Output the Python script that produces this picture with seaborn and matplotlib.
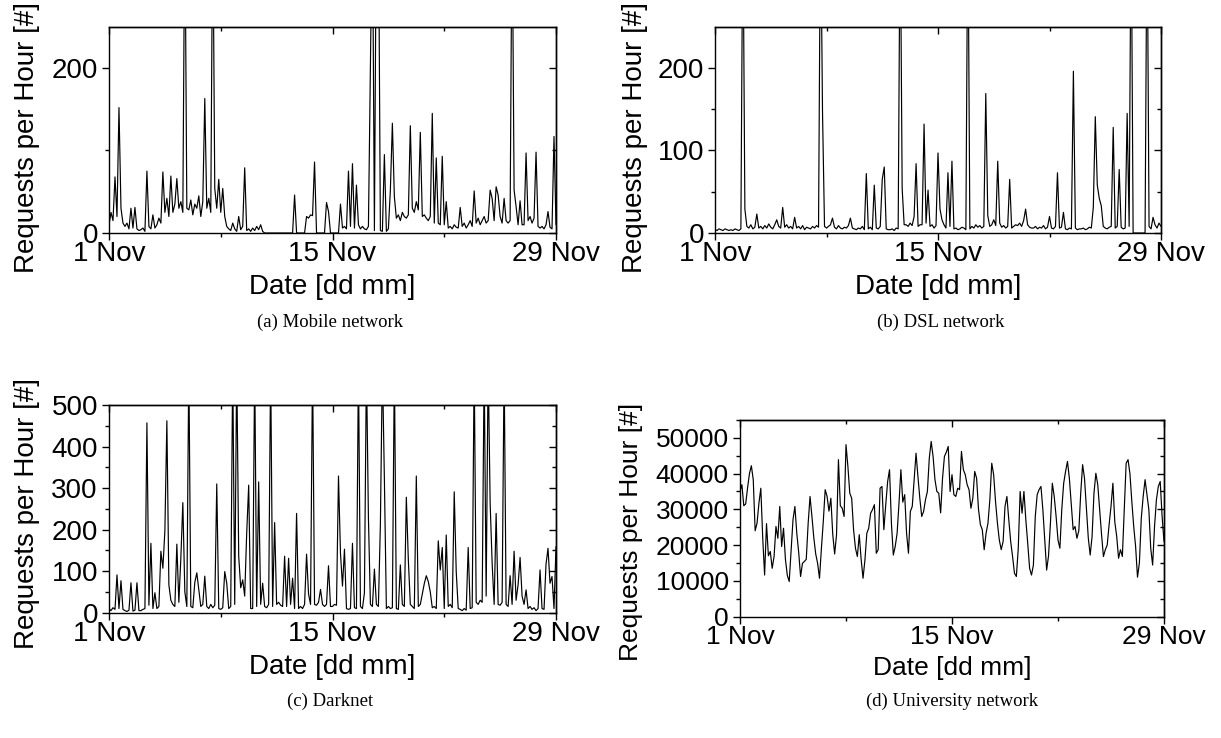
import numpy as np
import pandas as pd
import matplotlib
matplotlib.use("Agg")
import matplotlib.pyplot as plt
import seaborn as sns

# ---------------- data (requests per hour, one value every 3 hours, 1 Nov 00:00 .. 29 Nov 00:00) -------------
hours_per_step = 3
x_tick_days = [0, 14, 28]
x_minor_days = [7, 21]
x_tick_labels = ["1 Nov", "15 Nov", "29 Nov"]

mobile_requests = [
    10, 25, 15, 68, 20, 152, 30, 12,
    8, 12, 5, 30, 6, 31, 5, 3,
    4, 6, 2, 75, 8, 5, 22, 6,
    10, 18, 12, 74, 25, 42, 20, 69,
    25, 35, 66, 30, 38, 25, 400, 30,
    28, 40, 22, 35, 30, 45, 20, 38,
    163, 30, 42, 25, 400, 54, 30, 65,
    25, 54, 20, 8, 5, 3, 12, 5,
    2, 20, 4, 8, 79, 3, 5, 2,
    6, 3, 8, 4, 10, 2, 0, 0,
    0, 0, 0, 0, 0, 0, 0, 0,
    0, 0, 0, 0, 0, 46, 0, 0,
    0, 0, 0, 20, 18, 22, 21, 86,
    0, 0, 0, 0, 0, 37, 26, 0,
    0, 0, 0, 0, 35, 6, 8, 5,
    75, 8, 84, 6, 58, 10, 5, 8,
    5, 4, 8, 200, 400, 3, 400, 400,
    3, 2, 95, 2, 5, 52, 133, 44,
    18, 22, 15, 25, 20, 18, 22, 130,
    30, 25, 38, 28, 122, 20, 22, 18,
    15, 20, 145, 12, 91, 12, 10, 93,
    10, 38, 6, 8, 5, 10, 7, 6,
    31, 8, 12, 6, 10, 15, 8, 51,
    12, 18, 10, 15, 20, 12, 15, 52,
    42, 15, 56, 46, 20, 12, 42, 15,
    12, 15, 400, 52, 32, 10, 39, 10,
    10, 97, 15, 20, 12, 18, 98, 8,
    6, 8, 5, 10, 26, 7, 5, 117,
    10,
]

dsl_requests = [
    4, 3, 5, 4, 3, 5, 4, 3,
    4, 3, 5, 4, 3, 5, 400, 29,
    8, 6, 10, 5, 7, 23, 6, 8,
    5, 9, 6, 11, 7, 5, 10, 16,
    8, 6, 31, 7, 10, 6, 8, 5,
    19, 6, 8, 5, 9, 4, 7, 6,
    5, 8, 6, 9, 7, 400, 146, 8,
    6, 8, 10, 18, 7, 5, 9, 6,
    5, 7, 6, 9, 18, 6, 5, 4,
    6, 5, 8, 4, 72, 5, 7, 4,
    58, 6, 5, 8, 65, 80, 5, 4,
    4, 5, 3, 6, 5, 400, 54, 10,
    10, 8, 12, 9, 20, 84, 8, 10,
    10, 132, 12, 52, 8, 10, 6, 9,
    97, 29, 16, 10, 6, 73, 8, 87,
    5, 6, 4, 5, 7, 6, 4, 400,
    5, 8, 6, 10, 7, 9, 6, 8,
    169, 21, 8, 10, 16, 9, 87, 12,
    7, 9, 6, 8, 65, 6, 8, 10,
    9, 12, 8, 15, 29, 10, 7, 6,
    6, 8, 5, 7, 6, 9, 5, 7,
    20, 6, 5, 8, 73, 6, 7, 25,
    5, 4, 6, 5, 196, 6, 4, 5,
    5, 6, 4, 5, 7, 6, 31, 141,
    58, 42, 33, 8, 6, 5, 7, 8,
    128, 6, 8, 77, 7, 5, 6, 145,
    8, 400, 0, 0, 0, 0, 0, 0,
    0, 400, 8, 5, 19, 10, 6, 12,
    8,
]

darknet_requests = [
    10, 5, 12, 8, 91, 10, 77, 8,
    5, 3, 6, 72, 4, 6, 72, 5,
    5, 8, 10, 457, 18, 167, 10, 48,
    10, 15, 148, 107, 197, 462, 67, 30,
    20, 15, 165, 25, 131, 265, 50, 15,
    600, 15, 12, 73, 96, 55, 15, 20,
    88, 15, 10, 20, 12, 18, 310, 10,
    8, 12, 99, 71, 10, 15, 600, 20,
    600, 136, 60, 79, 40, 191, 307, 10,
    10, 600, 15, 315, 20, 71, 15, 12,
    20, 600, 15, 217, 20, 25, 18, 15,
    136, 15, 131, 20, 83, 10, 239, 10,
    15, 10, 20, 141, 45, 20, 600, 20,
    18, 25, 56, 20, 15, 20, 113, 15,
    15, 20, 18, 329, 143, 64, 153, 10,
    8, 10, 167, 12, 10, 600, 15, 10,
    48, 600, 229, 20, 15, 105, 20, 15,
    213, 600, 322, 10, 15, 10, 12, 600,
    10, 8, 115, 20, 15, 278, 127, 20,
    15, 10, 329, 15, 20, 45, 70, 89,
    75, 50, 12, 15, 10, 173, 103, 157,
    10, 187, 15, 20, 12, 291, 99, 10,
    8, 5, 10, 6, 157, 10, 12, 600,
    25, 20, 30, 25, 600, 40, 600, 263,
    119, 20, 239, 20, 18, 25, 600, 20,
    15, 89, 20, 148, 30, 67, 133, 40,
    20, 55, 10, 15, 8, 12, 5, 10,
    103, 10, 8, 117, 155, 71, 87, 10,
    159,
]

university_requests = [
    35000, 36900, 31000, 31500, 36000, 40000, 42200, 38300, 24000, 26100,
    31700, 35900, 22000, 11600, 26000, 17000, 18200, 13500, 16800, 25200,
    21900, 30800, 19600, 24700, 16000, 11500, 9800, 18700, 27100, 30800,
    23300, 18000, 11200, 14900, 15400, 16000, 26000, 33600, 28000, 22000,
    17500, 14900, 10700, 19000, 26600, 35500, 33600, 29500, 33100, 23000,
    17500, 22900, 43900, 31000, 30300, 28000, 48100, 42000, 34500, 33100,
    24300, 19100, 16800, 22900, 16000, 10700, 15800, 23300, 24700, 28900,
    29900, 31300, 17700, 18700, 35900, 36400, 24300, 31300, 37800, 41100,
    26000, 17200, 19600, 23300, 31700, 41100, 32000, 34100, 23300, 17700,
    29400, 30800, 38300, 45700, 39200, 33100, 28000, 29400, 32700, 35000,
    44300, 49000, 44800, 38300, 35000, 34500, 29000, 38700, 44800, 46000,
    47600, 35000, 39700, 34100, 33600, 35900, 35500, 46200, 41100, 39700,
    36900, 35500, 30300, 33100, 40600, 38700, 30000, 25700, 24300, 18700,
    23300, 26100, 32700, 42900, 39700, 32200, 26100, 21400, 18700, 21000,
    30800, 33600, 27100, 21000, 16800, 12100, 11200, 19000, 35000, 28900,
    35000, 27100, 20500, 13500, 11600, 14400, 28000, 34100, 35500, 36400,
    29900, 21400, 13000, 17000, 26100, 37300, 33600, 28000, 21400, 19100,
    30000, 37300, 40600, 43400, 38700, 31700, 24300, 25200, 21900, 24000,
    34500, 42500, 38700, 30500, 22000, 17200, 22400, 34500, 40100, 36900,
    30000, 23000, 16800, 18700, 20000, 25700, 30800, 37300, 26500, 22500,
    16300, 18700, 16800, 29900, 42900, 43900, 40000, 32200, 25200, 19600,
    11000, 15000, 27500, 33600, 38300, 34100, 29900, 19000, 14400, 25200,
    32700, 36400, 37800, 28000, 21000,
]

captions = ["(a) Mobile network", "(b) DSL network", "(c) Darknet", "(d) University network"]
y_label = "Requests per Hour [#]"
x_label = "Date [dd mm]"

# ---------------- styling ----------------
sns.set_style("ticks")
plt.rcParams["font.family"] = ["Liberation Sans", "DejaVu Sans"]
plt.rcParams["axes.linewidth"] = 1.0
for key in ["text.color", "axes.labelcolor", "xtick.color", "ytick.color", "axes.edgecolor"]:
    plt.rcParams[key] = "black"

W, H = 1221, 738
fig = plt.figure(figsize=(W / 100, H / 100), dpi=100)


def px_rect(left, top, right, bottom):
    return [left / W, 1 - bottom / H, (right - left) / W, (bottom - top) / H]


panels = [
    dict(values=mobile_requests, rect=px_rect(109, 26.7, 556, 233), ylim=250,
         major=[0, 200], minor=[100], fs=20, cap=(330, 322), ylab=(-0.154, 0.465)),
    dict(values=dsl_requests, rect=px_rect(715, 26.7, 1161, 233), ylim=250,
         major=[0, 100, 200], minor=[50, 150], fs=20, cap=(941, 322), ylab=(-0.150, 0.465)),
    dict(values=darknet_requests, rect=px_rect(109, 405, 556, 612.7), ylim=500,
         major=[0, 100, 200, 300, 400, 500], minor=[50, 150, 250, 350, 450], fs=20,
         cap=(330, 701), ylab=(-0.154, 0.48)),
    dict(values=university_requests, rect=px_rect(740, 420, 1164, 616.5), ylim=55000,
         major=[0, 10000, 20000, 30000, 40000, 50000],
         minor=[5000, 15000, 25000, 35000, 45000, 55000], fs=19, cap=(952, 701),
         ylab=(-0.229, 0.43)),
]

for p, cap in zip(panels, captions):
    ax = fig.add_axes(p["rect"])
    vals = p["values"]
    df = pd.DataFrame({"day": np.arange(len(vals)) * hours_per_step / 24.0, "req": vals})
    sns.lineplot(data=df, x="day", y="req", ax=ax, color="black", linewidth=0.85,
                 estimator=None)
    ax.set_xlim(0, 28)
    ax.set_ylim(0, p["ylim"])
    ax.set_xticks(x_tick_days)
    ax.set_xticklabels(x_tick_labels)
    ax.set_xticks(x_minor_days, minor=True)
    ax.set_yticks(p["major"])
    ax.set_yticks(p["minor"], minor=True)
    ax.tick_params(which="major", direction="out", length=5, width=1,
                   labelsize=p["fs"], colors="black", labelcolor="black")
    ax.tick_params(which="minor", direction="out", length=3, width=1, colors="black")
    ax.tick_params(axis="x", which="major", pad=1)
    ax.tick_params(axis="y", which="major", pad=3)
    for s in ax.spines.values():
        s.set_color("black")
        s.set_linewidth(1.0)
    # mirrored ticks on top / right pointing inward
    sx = ax.secondary_xaxis("top")
    sx.set_xticks(x_tick_days)
    sx.set_xticks(x_minor_days, minor=True)
    sx.tick_params(which="major", direction="in", length=5, width=1, labeltop=False, colors="black")
    sx.tick_params(which="minor", direction="in", length=3, width=1, colors="black")
    sy = ax.secondary_yaxis("right")
    sy.set_yticks(p["major"])
    sy.set_yticks(p["minor"], minor=True)
    sy.tick_params(which="major", direction="in", length=5, width=1, labelright=False, colors="black")
    sy.tick_params(which="minor", direction="in", length=3, width=1, colors="black")

    ax.set_xlabel(x_label, fontsize=p["fs"], labelpad=5, color="black")
    ax.set_ylabel(y_label, fontsize=p["fs"], color="black")
    ax.yaxis.set_label_coords(*p["ylab"])

    fig.text(p["cap"][0] / W, 1 - p["cap"][1] / H, cap, ha="center", va="center",
             family=["Liberation Serif", "DejaVu Serif"], fontsize=13.5, color="black")

fig.savefig("out.png", dpi=100)
